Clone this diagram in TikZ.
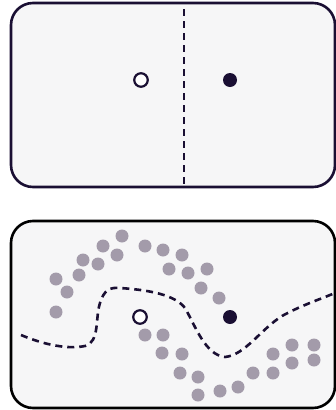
\documentclass[tikz,border=0pt]{standalone}
\usepackage{tikz}
\definecolor{ink}{HTML}{1A0F33}
\definecolor{paper}{HTML}{F6F6F7}
\definecolor{mist}{HTML}{A39BAA}

\begin{document}
\begin{tikzpicture}[x=1pt, y=-1pt, box/.style={draw=ink, line width=2.6pt, fill=paper, rounded corners=22pt}, split/.style={draw=ink, line width=2.6pt, dash pattern=on 7pt off 5pt}, hollow/.style={draw=ink, circle, line width=2.2pt, fill=white, minimum size=13.5pt, inner sep=0pt}, solid dot/.style={circle, fill=ink, minimum size=14pt, inner sep=0pt}, pt/.style={circle, fill=mist, minimum size=13pt, inner sep=0pt}]
	\useasboundingbox (0,0) rectangle (336,410);
	% upper panel: straight boundary
	\draw[box] (11,3) rectangle (335,187);
	\draw[split] (184,9) -- (184,184);
	\node[hollow] (a1) at (141,80) {};
	\node[solid dot] (b1) at (230,80) {};
	% lower panel: curved boundary
	\draw[box, draw=black] (11,221) rectangle (335,408);
	\foreach \px/\py [count=\i] in {56/279, 67/292, 56/312, 79/275, 83/260, 98/264, 103/246, 117/255, 122/236, 145/246, 163/250, 182/255, 169/269, 188/273, 207/269, 201/288, 219/298, 145/335, 163/335, 162/353, 182/354, 180/373, 198/377, 198/395, 220/391, 238/387, 253/373, 273/373, 273/354, 292/363, 292/345, 314/345, 314/360}
		\node[pt] (p\i) at (\px,\py) {};
	\draw[split] (21,335) .. controls (40,343) and (65,350) .. (85,346) .. controls (100,342) and (95,318) .. (100,303) .. controls (104,290) and (110,287) .. (120,288) .. controls (150,290) and (175,295) .. (185,308) .. controls (195,325) and (205,355) .. (225,357) .. controls (245,355) and (260,330) .. (282,316) .. controls (300,306) and (318,300) .. (335,293);
	\node[hollow] (a2) at (140,317) {};
	\node[solid dot] (b2) at (230,317) {};
\end{tikzpicture}
\end{document}
